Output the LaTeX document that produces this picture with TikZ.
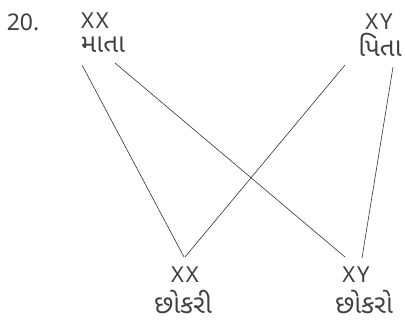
\documentclass[tikz,border=0pt]{standalone}
\usepackage{fontspec}
\setmainfont{Noto Sans}
\newfontfamily\lat[LetterSpace=8]{Noto Sans}
\newfontfamily\guj[Script=Gujarati]{Noto Sans Gujarati UI}
\begin{document}
\begin{tikzpicture}
    [%%%%%%%%%%%%%%%%%%%%%%%%%%%%%%
        x=1pt, y=-1pt,
        chrom/.style={inner sep=0pt, font=\lat\fontsize{22}{22}\selectfont\color{black!75}},
        word/.style={inner sep=0pt, font=\guj\fontsize{26}{26}\selectfont\color{black!75}},
        link/.style={draw=black!80, line width=0.6pt},
    ]%%%%%%%%%%%%%%%%%%%%%%%%%%%%%%
\useasboundingbox (0,0) rectangle (405,322);
\node[inner sep=0pt, font=\fontsize{23}{23}\selectfont\color{black!75}] (num) at (23,22) {20.};

\node[chrom] (xxm) at (95,21) {XX};
\node[word] (mata) at (103,45) {માતા};
\node[chrom] (xyf) at (379,22) {XY};
\node[word] (pita) at (380,45) {પિતા};

\node[chrom] (xxd) at (185,275) {XX};
\node[word] (dikri) at (183,302) {છોકરી};
\node[chrom] (xys) at (356,275) {XY};
\node[word] (dikro) at (364,302) {છોકરો};

\draw[link] ([shift={(-21,20)}]mata.center) -- ([shift={(-1,-18)}]xxd.center);
\draw[link] ([shift={(12,18)}]mata.center) -- ([shift={(-11,-18)}]xys.center);
\draw[link] ([shift={(-35,20)}]pita.center) -- ([shift={(0,-18)}]xxd.center);
\draw[link] ([shift={(13,22)}]pita.center) -- ([shift={(6,-17)}]xys.center);
\end{tikzpicture}
\end{document}
